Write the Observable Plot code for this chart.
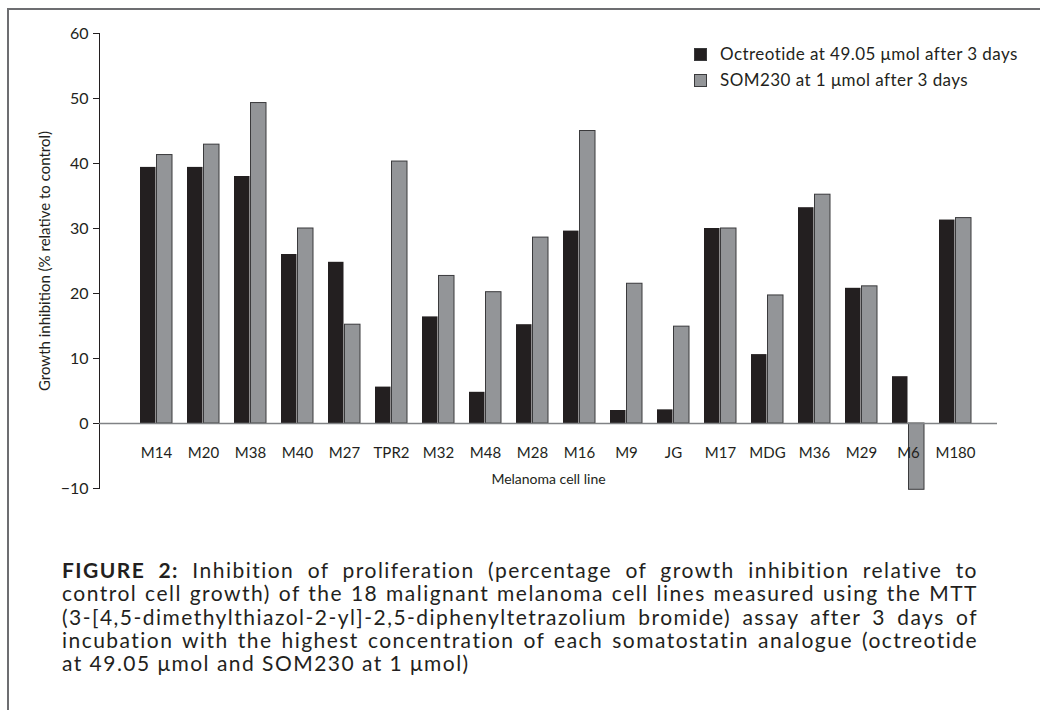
<!DOCTYPE html>
<html>
<head>
<meta charset="utf-8">
<script src="https://cdn.jsdelivr.net/npm/d3@7"></script>
<script src="https://cdn.jsdelivr.net/npm/@observablehq/plot@0.6"></script>
<style>
  html, body { margin: 0; padding: 0; background: #fff; }
  body { width: 1040px; height: 710px; position: relative; overflow: hidden; font-family: Lato, "Noto Sans", sans-serif; color: #231f20; }
  #frame { position: absolute; left: 7px; top: 8px; width: 1100px; height: 800px; border-left: 2px solid #6d6e71; border-top: 2px solid #6d6e71; box-sizing: border-box; }
  #chart { position: absolute; left: 0; top: 0; }
  #legend { position: absolute; left: 694px; top: 41px; font-size: 17px; letter-spacing: 0.45px; line-height: 26px; }
  #legend .row { display: flex; align-items: center; }
  #legend .sw { width: 13px; height: 13px; margin-right: 13px; box-sizing: border-box; }
  #caption { position: absolute; left: 62px; top: 558px; width: 916px; font-size: 21px; line-height: 23.3px; font-variant-ligatures: none; }
  #caption .ln { white-space: nowrap; }
</style>
</head>
<body>
<div id="frame"></div>
<div id="chart"></div>
<div id="legend"></div>
<div id="caption"></div>
<script>
const cells = ["M14","M20","M38","M40","M27","TPR2","M32","M48","M28","M16","M9","JG","M17","MDG","M36","M29","M6","M180"];
const octreotide = [39.4,39.4,38.0,26.0,24.8,5.6,16.4,4.8,15.2,29.6,2.0,2.1,30.0,10.6,33.2,20.8,7.2,31.3];
const som230 = [41.3,42.9,49.3,30.0,15.2,40.3,22.7,20.2,28.6,45.0,21.5,14.9,30.0,19.7,35.2,21.1,-10.2,31.6];
const seriesNames = ["Octreotide at 49.05 μmol after 3 days", "SOM230 at 1 μmol after 3 days"];
const seriesColors = ["#231f20", "#939598"];
const yTicks = [-10, 0, 10, 20, 30, 40, 50, 60];
const xTitle = "Melanoma cell line";
const yTitle = "Growth inhibition (% relative to control)";
const captionLines = [
  "<b>FIGURE 2:</b> Inhibition of proliferation (percentage of growth inhibition relative to",
  "control cell growth) of the 18 malignant melanoma cell lines measured using the MTT",
  "(3-[4,5-dimethylthiazol-2-yl]-2,5-diphenyltetrazolium bromide) assay after 3 days of",
  "incubation with the highest concentration of each somatostatin analogue (octreotide",
  "at 49.05 μmol and SOM230 at 1 μmol)"
];

const octData = cells.map((c, i) => ({cell: c, value: octreotide[i]}));
const somData = cells.map((c, i) => ({cell: c, value: som230[i]}));

const chart = Plot.plot({
  width: 1040,
  height: 500,
  marginLeft: 99,
  marginRight: 43,
  marginTop: 33,
  marginBottom: 12,
  style: {fontFamily: "Lato, 'Noto Sans', sans-serif", fontSize: "16px", color: "#231f20", background: "transparent"},
  x: {domain: cells, range: [132.7, 978.7], paddingInner: 0.31, paddingOuter: 0, axis: null},
  y: {domain: [-10, 60], ticks: yTicks, tickSize: 6, tickPadding: 5, line: true, label: null},
  marks: [
    Plot.barY(octData, {x: "cell", y: "value", fill: seriesColors[0], insetRight: 16.5}),
    Plot.barY(somData, {x: "cell", y: "value", fill: seriesColors[1], stroke: "#3a3a3c", strokeWidth: 1, insetLeft: 16.5}),
    Plot.ruleY([0], {stroke: "#808285", strokeWidth: 1.6}),
    Plot.text(cells, {x: d => d, y: d => 0, dy: 30, fontSize: 15, fill: "#231f20"}),
    Plot.text([xTitle], {frameAnchor: "bottom", dy: -5, fontSize: 14, fill: "#231f20"}),
    Plot.text([yTitle], {frameAnchor: "left", textAnchor: "middle", dx: -54, rotate: -90, fontSize: 15, fill: "#231f20"})
  ]
});
document.getElementById("chart").appendChild(chart);

const legend = document.getElementById("legend");
seriesNames.forEach((name, i) => {
  const row = document.createElement("div");
  row.className = "row";
  const sw = document.createElement("div");
  sw.className = "sw";
  sw.style.background = seriesColors[i];
  sw.style.border = "1px solid #3a3a3c";
  row.appendChild(sw);
  const t = document.createElement("span");
  t.textContent = name;
  row.appendChild(t);
  legend.appendChild(row);
});

// Caption: widen tracking slightly so the densest line nearly fills the box, then justify via word-spacing
const cap = document.getElementById("caption");
const lineEls = captionLines.map((l) => {
  const d = document.createElement("div");
  d.className = "ln";
  const s = document.createElement("span");
  s.innerHTML = l;
  d.appendChild(s);
  cap.appendChild(d);
  return s;
});
const boxW = 916;
let best = null;
lineEls.slice(0, -1).forEach(s => {
  const w = s.getBoundingClientRect().width;
  const ls = (boxW * 0.985 - w) / s.textContent.length;
  if (best === null || ls < best) best = ls;
});
cap.style.letterSpacing = Math.max(0, best) + "px";
lineEls.slice(0, -1).forEach(s => {
  const w = s.getBoundingClientRect().width;
  const gaps = (s.textContent.match(/ /g) || []).length;
  if (gaps > 0) s.style.wordSpacing = ((boxW - w) / gaps) + "px";
});
</script>
</body>
</html>
